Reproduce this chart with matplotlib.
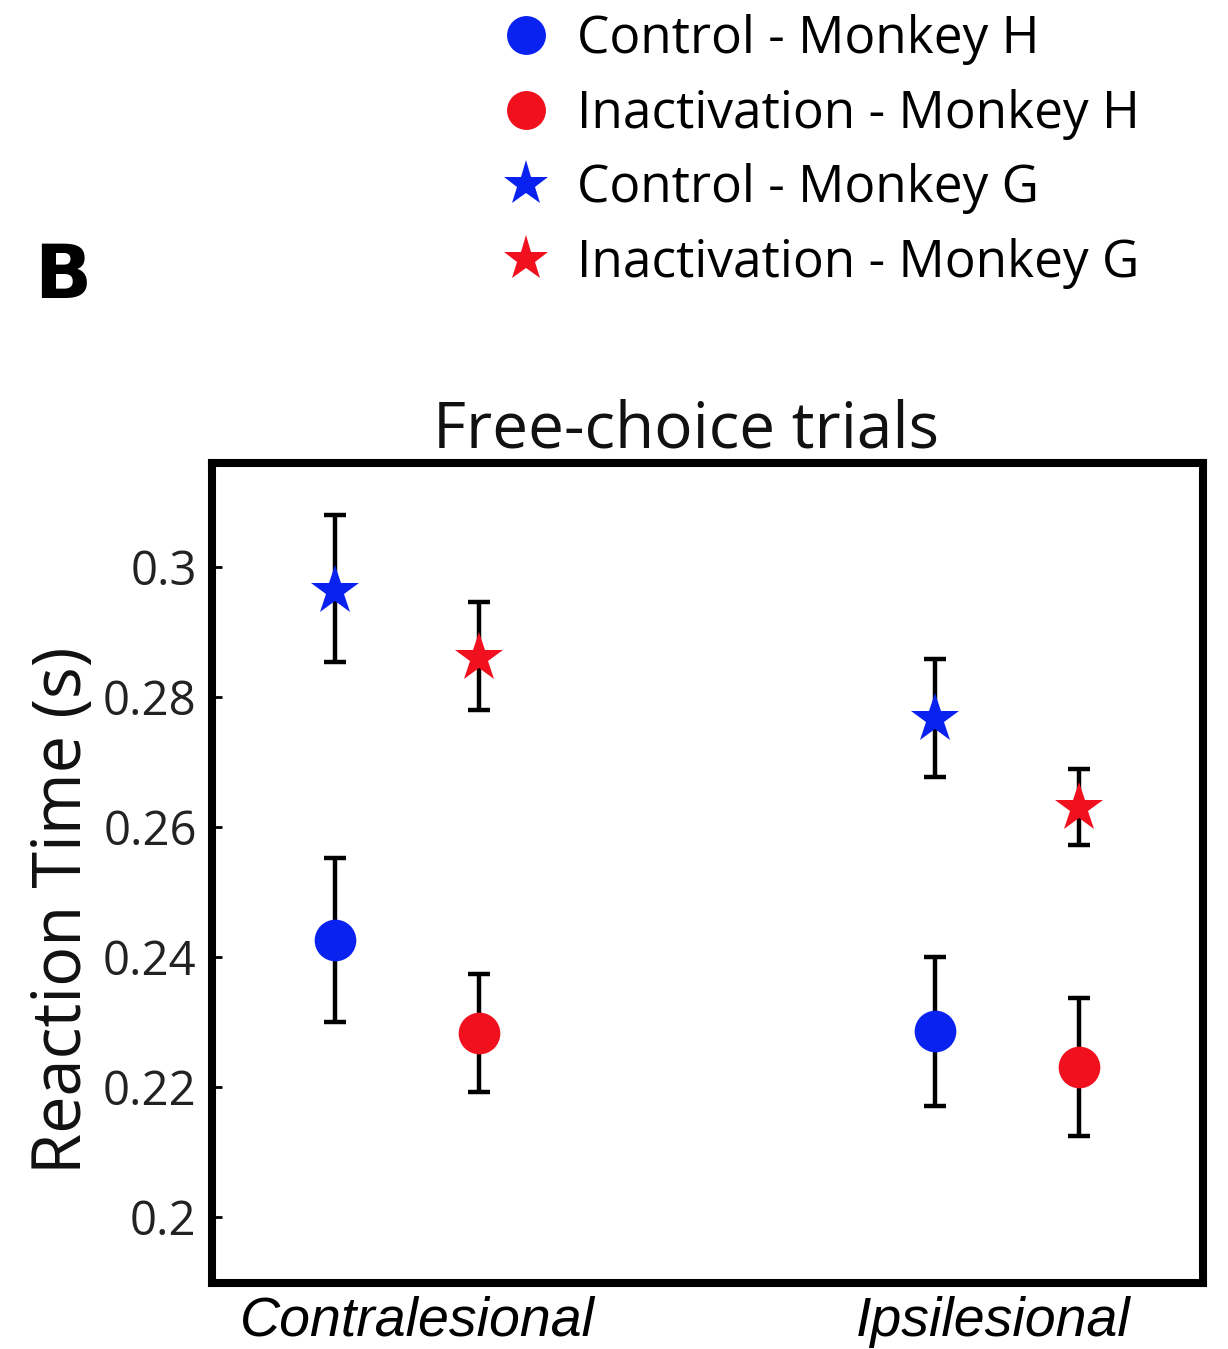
import numpy as np
import matplotlib
matplotlib.use("Agg")
import matplotlib.pyplot as plt
from matplotlib.lines import Line2D

# ---- Daten
sides = ["Contralesional", "Ipsilesional"]
groups = ["Control - Monkey H", "Inactivation - Monkey H",
          "Control - Monkey G", "Inactivation - Monkey G"]

# Mittelwerte je Gruppe: [contra, ipsi]
ctrl_H = [0.2426, 0.2286]
inact_H = [0.2282, 0.2231]
ctrl_G = [0.2963, 0.2766]
inact_G = [0.2860, 0.2629]

# Fehlerbalken: untere / obere Grenze
ctrl_H_lo = [0.2300, 0.2171]
ctrl_H_hi = [0.2552, 0.2400]
inact_H_lo = [0.2192, 0.2125]
inact_H_hi = [0.2374, 0.2337]
ctrl_G_lo = [0.2854, 0.2677]
ctrl_G_hi = [0.3080, 0.2858]
inact_G_lo = [0.2780, 0.2572]
inact_G_hi = [0.2946, 0.2689]

yticks = [0.2, 0.22, 0.24, 0.26, 0.28, 0.3]
ytick_labels = ["0.2", "0.22", "0.24", "0.26", "0.28", "0.3"]

blue = "#0a22f0"
red = "#f0101e"

plt.rcParams['font.family'] = ['Open Sans', 'DejaVu Sans']

fig = plt.figure(figsize=(12.28, 13.49), dpi=100)
ax = fig.add_axes([0.1726, 0.0489, 0.807, 0.608])

xpos = np.array([1.0, 2.0])
off = 0.12

series = [
    (ctrl_H, ctrl_H_lo, ctrl_H_hi, -off, "o", blue, 30),
    (inact_H, inact_H_lo, inact_H_hi, off, "o", red, 30),
    (ctrl_G, ctrl_G_lo, ctrl_G_hi, -off, "*", blue, 37),
    (inact_G, inact_G_lo, inact_G_hi, off, "*", red, 37),
]

for vals, lo, hi, dx, mk, col, ms in series:
    vals = np.array(vals)
    yerr = np.array([vals - np.array(lo), np.array(hi) - vals])
    ax.errorbar(xpos + dx, vals, yerr=yerr, fmt="none", ecolor="black",
                elinewidth=3.2, capsize=8, capthick=3.2, zorder=2)
    ax.plot(xpos + dx, vals, linestyle="none", marker=mk, color=col,
            markersize=ms, markeredgewidth=0, zorder=3)

ax.set_xlim(0.675, 2.327)
ax.set_ylim(0.1898, 0.316)
ax.set_yticks(yticks)
ax.set_yticklabels(ytick_labels, fontsize=34, color="#222222")
# Beschriftung leicht gegen die Gruppenmitte versetzt wie im Original
ax.set_xticks(xpos + np.array([0.018, -0.022]))
ax.set_xticklabels(sides, fontsize=40, style="italic",
                   family=["Liberation Sans", "DejaVu Sans"])
ax.tick_params(axis="y", direction="in", length=7, width=2, pad=11)
ax.tick_params(axis="x", length=0, pad=9)
for sp in ax.spines.values():
    sp.set_linewidth(5.8)

ax.set_title("Free-choice trials", fontsize=46, pad=9, color="#111111",
             x=0.478)
ax.set_ylabel("Reaction Time (s)", fontsize=48, color="#111111")
ax.yaxis.set_label_coords(-0.116, 0.455)

# Panel-Buchstabe
fig.text(0.028, 0.779, "B", fontsize=54, fontweight="bold",
         family=["DejaVu Sans"])

# Legende oben
handles = [
    Line2D([], [], linestyle="none", marker="o", color=blue, markersize=28, markeredgewidth=0),
    Line2D([], [], linestyle="none", marker="o", color=red, markersize=28, markeredgewidth=0),
    Line2D([], [], linestyle="none", marker="*", color=blue, markersize=34, markeredgewidth=0),
    Line2D([], [], linestyle="none", marker="*", color=red, markersize=34, markeredgewidth=0),
]
fig.legend(handles, groups, loc="upper left",
           bbox_to_anchor=(500 / 1228, 1 - 14 / 1349), frameon=False,
           fontsize=37, handlelength=1.0, handletextpad=0.5,
           labelspacing=0.46, borderpad=0, borderaxespad=0)

fig.savefig("out.png", dpi=100)
